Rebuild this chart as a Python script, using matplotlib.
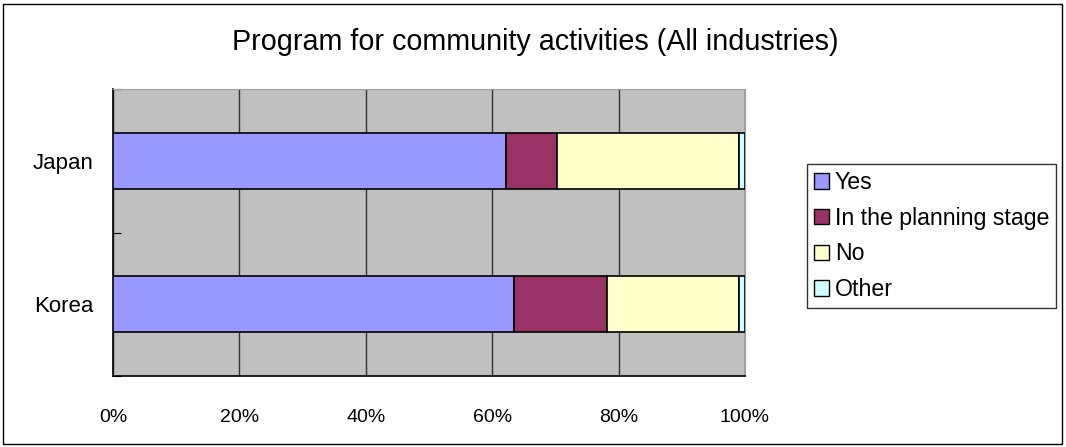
import numpy as np
import matplotlib.pyplot as plt
from matplotlib.patches import Patch, Rectangle

plt.rcParams['font.family'] = ['Liberation Sans', 'DejaVu Sans']

countries = ["Japan", "Korea"]
answers = ["Yes", "In the planning stage", "No", "Other"]
yes = [62.2, 63.5]
planning = [8.1, 14.6]
no = [28.7, 20.9]
other = [1.0, 1.0]
colors = ["#9999FF", "#993366", "#FFFFCC", "#CCFFFF"]

fig = plt.figure(figsize=(10.66, 4.47), dpi=100)
ax = fig.add_axes([113/1066, 1-376/447, (745-113)/1066, (376-89)/447])
ax.set_facecolor("#C0C0C0")

# outer frame of the chart area
fig.patches.append(Rectangle((3/1066, 3/447), 1059/1066, 440/447, transform=fig.transFigure,
                             fill=False, edgecolor="black", linewidth=1))

y = np.arange(len(countries))
left = np.zeros(len(countries))
for vals, c, lab in zip([yes, planning, no, other], colors, answers):
    ax.barh(y, vals, left=left, height=0.39, color=c, edgecolor="black", linewidth=1.2,
            label=lab, zorder=3)
    left += np.array(vals)

ax.set_xlim(0, 100)
ax.set_ylim(1.5, -0.5)
ax.set_xticks(np.arange(0, 101, 20))
ax.set_xticklabels([f"{v}%" for v in range(0, 101, 20)], fontsize=14)
ax.xaxis.grid(True, color="#333333", linewidth=1, zorder=0)
ax.set_axisbelow(True)
ax.tick_params(axis="x", length=0, pad=24)

ax.set_yticks([-0.5, 0.5, 1.5])
ax.set_yticks(y, minor=True)
ax.set_yticklabels([])
ax.set_yticklabels(countries, minor=True, fontsize=16)
ax.tick_params(axis="y", which="major", length=6, direction="in")
ax.tick_params(axis="y", which="minor", length=0, pad=14)

for s in ["top", "right"]:
    ax.spines[s].set_color("#A0A0A0")
for s in ["left", "bottom"]:
    ax.spines[s].set_linewidth(1.2)

fig.text(535/1066, 1-42/447, "Program for community activities (All industries)",
         ha="center", va="center", fontsize=20.7)

handles = [Patch(facecolor=c, edgecolor="black", label=l) for c, l in zip(colors, answers)]
fig.legend(handles=handles, loc="upper left", bbox_to_anchor=(807/1066, 1-164/447),
           frameon=True, fancybox=False, edgecolor="black", fontsize=16.7,
           handlelength=0.65, handleheight=0.65, handletextpad=0.25, labelspacing=0.55,
           borderpad=0.3, borderaxespad=0)

fig.savefig("out.png", dpi=100)
